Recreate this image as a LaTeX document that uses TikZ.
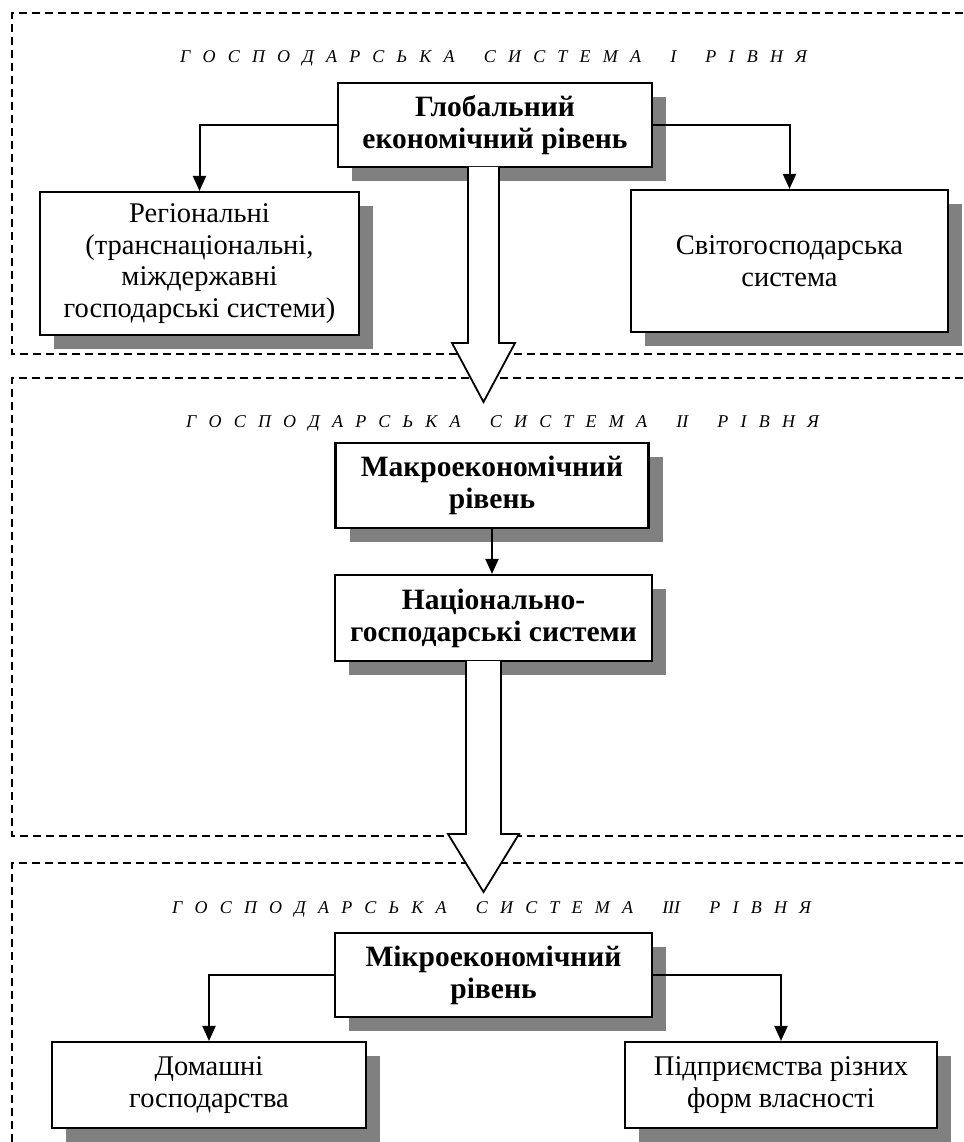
\documentclass[tikz,border=0pt]{standalone}
\usepackage{fontspec}
\setmainfont{Liberation Serif}
\usetikzlibrary{arrows.meta,shadows}
\newcommand\mytitlefont{\fontsize{18}{20}\selectfont\itshape\spaceskip=12.2pt plus 0pt minus 0pt\relax}
\newcommand\wgap{\hspace{17pt}}
\begin{document}
\begin{tikzpicture}[x=1pt,y=-1pt,
  box/.style={draw=black, line width=2.1pt, fill=white, align=center, inner sep=2pt,
    font=\fontsize{28.5}{31.5}\selectfont,
    drop shadow={shadow xshift=14pt, shadow yshift=-14pt, opacity=1, fill=black!50}},
  bbox/.style={box, font=\fontsize{29.5}{32}\selectfont\bfseries},
  frame/.style={dash pattern=on 8pt off 5pt, line width=1.3pt},
  conn/.style={line width=2pt, -{Triangle[width=13pt,length=15pt]}},
  bigarrow/.style={draw=black, fill=white, line width=1.8pt, line join=miter},
  title/.style={anchor=base west, inner sep=0pt}
]
\useasboundingbox (0,0) rectangle (963,1142);
% frames
\coordinate (f1a) at (963,13); \coordinate (f1b) at (12,13);
\coordinate (f1c) at (12,354); \coordinate (f1d) at (963,354);
\draw[frame] (f1a) -- (f1b) -- (f1c) -- (f1d);
\coordinate (f2a) at (963,378); \coordinate (f2b) at (12,378);
\coordinate (f2c) at (12,836); \coordinate (f2d) at (963,836);
\draw[frame] (f2a) -- (f2b) -- (f2c) -- (f2d);
\coordinate (f3a) at (963,863); \coordinate (f3b) at (12,863);
\coordinate (f3c) at (12,1142);
\draw[frame] (f3a) -- (f3b) -- (f3c);
% titles
\node[title] (t1) at (180,63) {\mytitlefont Г О С П О Д А Р С Ь К А\wgap{} С И С Т Е М А\wgap{} I\wgap{} Р І В Н Я};
\node[title] (t2) at (186,427) {\mytitlefont Г О С П О Д А Р С Ь К А\wgap{} С И С Т Е М А\wgap{} II\wgap{} Р І В Н Я};
\node[title] (t3) at (172,913) {\mytitlefont Г О С П О Д А Р С Ь К А\wgap{} С И С Т Е М А\wgap{} III\wgap{} Р І В Н Я};
% level 1
\node[bbox, minimum width=314pt, minimum height=84pt] (glob) at (495,125) {Глобальний\\економічний рівень};
\node[box, minimum width=319pt, minimum height=143pt] (reg) at (199.5,263.5) {Регіональні\\(транснаціональні,\\міждержавні\\господарські системи)};
\node[box, minimum width=317pt, minimum height=142pt] (svit) at (789.5,261) {Світогосподарська\\система};
\draw[conn] (glob.west) -| (reg.north);
\draw[conn] (glob.east) -| (svit.north);
% level 2
\node[bbox, minimum width=313pt, minimum height=85pt] (makro) at (492,485.5) {Макроекономічний\\рівень};
\node[bbox, minimum width=317pt, minimum height=86pt] (nac) at (493.5,618) {Національно-\\господарські системи};
\draw[conn] (makro.south) -- (makro.south |- nac.north);
% level 3
\node[bbox, minimum width=317pt, minimum height=84pt] (mikro) at (493.5,975) {Мікроекономічний\\рівень};
\node[box, minimum width=314pt, minimum height=86pt] (dom) at (209,1085) {Домашні\\господарства};
\node[box, minimum width=312pt, minimum height=86pt] (pidp) at (781,1085) {Підприємства різних\\форм власності};
\draw[conn] (mikro.west) -| (dom.north);
\draw[conn] (mikro.east) -| (pidp.north);
% big arrows
\draw[bigarrow] (468,167) -- (468,343) -- (452,343) -- (483.5,402) -- (515,343) -- (499,343) -- (499,167);
\draw[bigarrow] (466,661) -- (466,834) -- (448,834) -- (483.5,892) -- (519,834) -- (501,834) -- (501,661);
\end{tikzpicture}
\end{document}
